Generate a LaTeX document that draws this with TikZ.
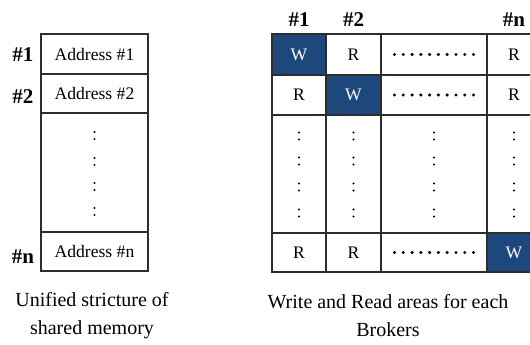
\documentclass[tikz,border=0pt]{standalone}
\usepackage{fontspec}
\setmainfont{Liberation Serif}
\definecolor{wblue}{RGB}{30,72,124}
\definecolor{gridline}{RGB}{45,45,45}
\begin{document}
\begin{tikzpicture}[x=1pt,y=-1pt,
  cell/.style={draw=gridline,line width=1.3pt,inner sep=0pt,anchor=center,
    font=\fontsize{17.6}{20}\selectfont},
  wcell/.style={cell,fill=wblue,text=white},
  tag/.style={font=\fontsize{21}{24}\selectfont\bfseries},
  caption/.style={font=\fontsize{20}{28}\selectfont,align=center},
  hdot/.style={fill=black,draw=none},
]
\useasboundingbox (0,0) rectangle (530,345);
\clip (0,0) rectangle (530,345);

% ---- unified structure of shared memory ----
\node[cell,minimum width=107pt,minimum height=40pt] (a1) at (94.5,54) {Address \#1};
\node[cell,minimum width=107pt,minimum height=39pt] (a2) at (94.5,93.5) {Address \#2};
\node[cell,minimum width=107pt,minimum height=119pt] (ad) at (94.5,172.5) {};
\node[cell,minimum width=107pt,minimum height=39pt] (an) at (94.5,251.5) {Address \#n};
\foreach \yy in {-37,-11,14,39}{
  \fill (ad.center) ++(0,\yy-3.5) circle (1.1);
  \fill (ad.center) ++(0,\yy+3.5) circle (1.1);
}
\node[tag] (l1) at (23,55) {\#1};
\node[tag] (l2) at (23,97) {\#2};
\node[tag] (ln) at (23,257) {\#n};

% ---- write/read areas ----
% column centres and row centres
\def\cA{299}\def\cB{353.5}\def\cC{434}\def\cD{514}
\def\rA{54.5}\def\rB{95}\def\rC{174}\def\rD{252.5}
% row 1
\node[wcell,minimum width=54pt,minimum height=41pt] (g11) at (\cA,\rA) {W};
\node[cell,minimum width=55pt,minimum height=41pt] (g12) at (\cB,\rA) {R};
\node[cell,minimum width=106pt,minimum height=41pt] (g13) at (\cC,\rA) {};
\node[cell,minimum width=54pt,minimum height=41pt] (g14) at (\cD,\rA) {R};
% row 2
\node[cell,minimum width=54pt,minimum height=40pt] (g21) at (\cA,\rB) {R};
\node[wcell,minimum width=55pt,minimum height=40pt] (g22) at (\cB,\rB) {W};
\node[cell,minimum width=106pt,minimum height=40pt] (g23) at (\cC,\rB) {};
\node[cell,minimum width=54pt,minimum height=40pt] (g24) at (\cD,\rB) {R};
% row 3 (elided rows)
\node[cell,minimum width=54pt,minimum height=118pt] (g31) at (\cA,\rC) {};
\node[cell,minimum width=55pt,minimum height=118pt] (g32) at (\cB,\rC) {};
\node[cell,minimum width=106pt,minimum height=118pt] (g33) at (\cC,\rC) {};
\node[cell,minimum width=54pt,minimum height=118pt] (g34) at (\cD,\rC) {};
% row 4
\node[cell,minimum width=54pt,minimum height=39pt] (g41) at (\cA,\rD) {R};
\node[cell,minimum width=55pt,minimum height=39pt] (g42) at (\cB,\rD) {R};
\node[cell,minimum width=106pt,minimum height=39pt] (g43) at (\cC,\rD) {};
\node[wcell,minimum width=54pt,minimum height=39pt] (g44) at (\cD,\rD) {W};

% horizontal dot runs
\foreach \c in {g13,g23,g43}{
  \foreach \i in {0,...,9}{
    \fill[hdot] (\c.center) ++(-39.5+8.78*\i,0) circle (1.7);
  }
}
% vertical dot pairs
\foreach \c in {g31,g32,g33,g34}{
  \foreach \yy in {-38,-13,13,39}{
    \fill (\c.center) ++(0,\yy-3.5) circle (1.1);
    \fill (\c.center) ++(0,\yy+3.5) circle (1.1);
  }
}
\node[tag] (h1) at (\cA,20) {\#1};
\node[tag] (h2) at (\cB,20) {\#2};
\node[tag] (hn) at (\cD,20) {\#n};

% captions
\node[caption] (capL) at (92,316) {Unified stricture of\\shared memory};
\node[caption] (capR) at (388,316) {Write and Read areas for each\\Brokers};
\end{tikzpicture}
\end{document}
